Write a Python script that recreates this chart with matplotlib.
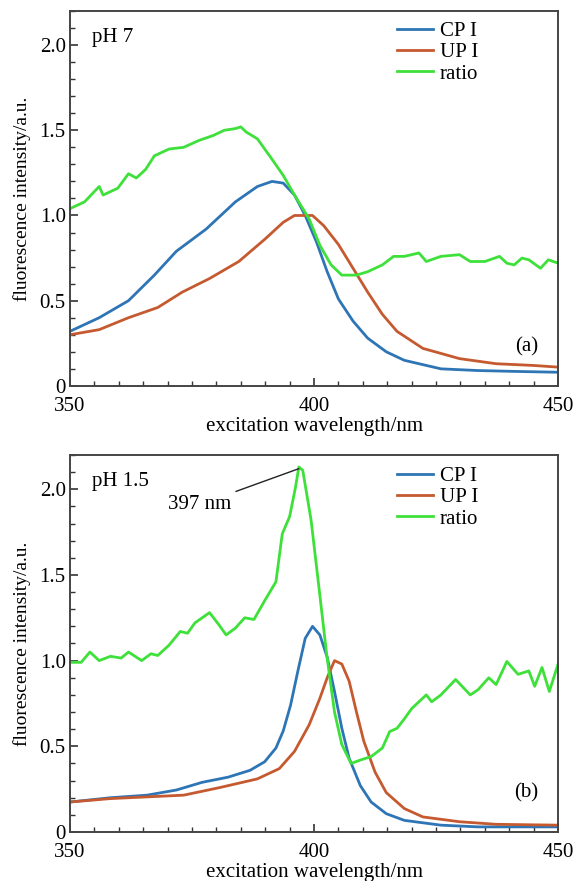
import numpy as np
import matplotlib.pyplot as plt
from matplotlib.ticker import MultipleLocator

plt.rcParams['font.family'] = ['Liberation Serif', 'DejaVu Serif']

# (a) pH 7
wl_cp_a = [350, 356, 362, 367.3, 371.8, 377.9, 383.9, 388.4, 391.4, 393.7, 396, 398.2,
           400.5, 402.7, 405, 408, 411, 414.8, 418.5, 426, 433.6, 441, 450]
cp_a = [0.32, 0.40, 0.50, 0.65, 0.79, 0.92, 1.08, 1.17, 1.20, 1.19, 1.12, 1.00,
        0.845, 0.67, 0.51, 0.38, 0.28, 0.20, 0.15, 0.10, 0.09, 0.085, 0.08]

wl_up_a = [350, 356, 362, 368, 373, 378.6, 384.6, 389.9, 393.7, 396, 399.7, 402, 405,
           408, 411, 414, 417, 422.3, 429.8, 437.3, 444.9, 450]
up_a = [0.30, 0.33, 0.40, 0.46, 0.55, 0.63, 0.73, 0.86, 0.96, 1.00, 1.00, 0.94, 0.83,
        0.69, 0.55, 0.42, 0.32, 0.22, 0.16, 0.13, 0.12, 0.11]

wl_ra_a = [350, 353, 356, 356.8, 359.8, 362, 363.6, 365.5, 367.3, 370.3, 373.3, 376.4,
           379.4, 381.6, 383.9, 385, 386.1, 388.4, 391.4, 393.7, 396, 399, 401.2,
           403.5, 405.7, 408.7, 411, 414, 416.3, 418.5, 421.5, 423, 426, 429.8, 432,
           435, 438, 439.5, 441, 442.6, 444, 446.4, 448, 450]
ra_a = [1.04, 1.08, 1.17, 1.12, 1.16, 1.245, 1.22, 1.27, 1.35, 1.39, 1.40, 1.44,
        1.47, 1.50, 1.51, 1.52, 1.49, 1.45, 1.33, 1.235, 1.12, 0.98, 0.825,
        0.71, 0.65, 0.65, 0.67, 0.71, 0.76, 0.76, 0.78, 0.73, 0.76, 0.77, 0.73,
        0.73, 0.76, 0.72, 0.71, 0.75, 0.74, 0.69, 0.74, 0.72]

# (b) pH 1.5
wl_cp_b = [350, 358.3, 365.8, 371.8, 377.1, 382.4, 386.9, 389.9, 392.2, 393.7, 395.2,
           396.7, 398.2, 399.7, 401.2, 402.7, 404.2, 405.7, 407.2, 409.5, 411.7, 414.8,
           418.5, 426, 433.6, 450]
cp_b = [0.175, 0.20, 0.215, 0.245, 0.29, 0.32, 0.36, 0.41, 0.49, 0.59, 0.74,
        0.94, 1.13, 1.20, 1.15, 1.02, 0.82, 0.605, 0.43, 0.27, 0.175, 0.107,
        0.068, 0.04, 0.03, 0.03]

wl_up_b = [350, 358.3, 365.8, 373.3, 380.8, 388.4, 392.9, 396, 399, 401.2, 402.7,
           404.2, 405.7, 407.2, 408.7, 410.2, 412.5, 414.8, 418.5, 422.3, 429.8,
           437.3, 450]
up_b = [0.175, 0.195, 0.205, 0.215, 0.26, 0.31, 0.37, 0.47, 0.625, 0.78, 0.90,
        1.00, 0.98, 0.88, 0.70, 0.53, 0.35, 0.23, 0.137, 0.088, 0.06, 0.045, 0.04]

wl_ra_b = [350, 352.3, 354.1, 356, 358.3, 360.5, 362, 364.7, 366.6, 368, 370.3, 372.6,
           374.1, 375.6, 378.6, 380.5, 382, 383.9, 385.8, 387.7, 389.9, 392.2, 393.5,
           395, 396.2, 396.9, 397.7, 399.4, 401, 402.6, 404.2, 405.7, 407.6,
           409.5, 411.7, 414, 415.5, 417, 418.5, 420, 421.5, 423, 424.1, 426, 429,
           432, 433.6, 435.8, 437.3, 439.5, 441.8, 444, 445.2, 446.7, 448.2, 450]
ra_b = [0.99, 0.99, 1.05, 1.00, 1.025, 1.015, 1.05, 1.00, 1.04, 1.03, 1.09, 1.17,
        1.16, 1.22, 1.28, 1.21, 1.15, 1.19, 1.25, 1.24, 1.35, 1.46, 1.74,
        1.84, 2.01, 2.13, 2.11, 1.82, 1.43, 1.035, 0.70, 0.51, 0.40,
        0.42, 0.44, 0.49, 0.586, 0.605, 0.66, 0.72, 0.76, 0.80, 0.76, 0.80, 0.89,
        0.80, 0.83, 0.90, 0.86, 0.995, 0.92, 0.94, 0.85, 0.96, 0.82, 0.98]

c_cp = '#2e75b6'
c_up = '#c55a30'
c_ra = '#3ee03a'

fig = plt.figure(figsize=(5.73, 8.81), dpi=100)
ax_a = fig.add_axes([0.122, 0.562, 0.852, 0.4255])
ax_b = fig.add_axes([0.122, 0.0556, 0.852, 0.428])

panels = [
    (ax_a, wl_cp_a, cp_a, wl_up_a, up_a, wl_ra_a, ra_a, 'pH 7', '(a)', 0.972),
    (ax_b, wl_cp_b, cp_b, wl_up_b, up_b, wl_ra_b, ra_b, 'pH 1.5', '(b)', 0.969),
]

for ax, x1, y1, x2, y2, x3, y3, ph, tag, ly in panels:
    ax.plot(x1, y1, color=c_cp, lw=2.0, label='CP I')
    ax.plot(x2, y2, color=c_up, lw=2.0, label='UP I')
    ax.plot(x3, y3, color=c_ra, lw=2.0, label='ratio')
    ax.set_xlim(350, 450)
    ax.set_ylim(0, 2.2)
    ax.set_xticks([350, 400, 450])
    ax.set_yticks([0, 0.5, 1.0, 1.5, 2.0])
    ax.set_yticklabels(['0', '0.5', '1.0', '1.5', '2.0'])
    ax.xaxis.set_minor_locator(MultipleLocator(5))
    ax.yaxis.set_minor_locator(MultipleLocator(0.1))
    ax.tick_params(which='both', direction='in', top=False, right=False,
                   labelsize=15, color='#333333')
    ax.tick_params(axis='x', which='major', pad=8)
    ax.tick_params(axis='y', which='major', pad=3)
    ax.tick_params(which='major', length=6, width=1.2)
    ax.tick_params(which='minor', length=3.5, width=1.0)
    for s in ax.spines.values():
        s.set_color('#444444')
        s.set_linewidth(1.4)
    ax.set_xlabel('excitation wavelength/nm', fontsize=15, labelpad=0.5)
    ax.set_ylabel('fluorescence intensity/a.u.', fontsize=14, labelpad=6)
    ax.text(0.045, 0.93, ph, transform=ax.transAxes, fontsize=15,
            ha='left', va='center')
    ax.text(0.96, 0.104, tag, transform=ax.transAxes, fontsize=15,
            ha='right', va='center')
    ax.legend(loc='upper left', bbox_to_anchor=(0.67, ly), frameon=False,
              fontsize=15, handlelength=1.75, handletextpad=0.3,
              labelspacing=0.08, borderaxespad=0, borderpad=0)

ax_b.annotate('397 nm', xy=(396.9, 2.12), xytext=(383, 1.91),
              fontsize=15, ha='right', va='center',
              arrowprops=dict(arrowstyle='-', color='#222222', lw=1.0,
                              shrinkA=2, shrinkB=0))

fig.savefig('out.png', dpi=100)
